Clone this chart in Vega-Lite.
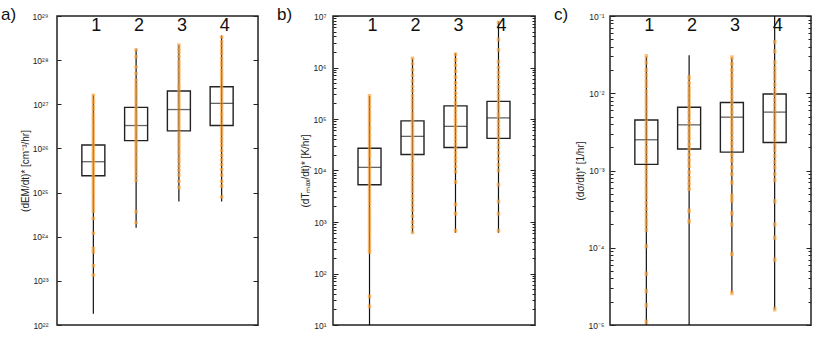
{
  "$schema": "https://vega.github.io/schema/vega-lite/v6.json",
  "padding": {"left": 0, "top": 5, "right": 5, "bottom": 5},
  "background": "white",
  "config": {
    "view": {"stroke": "#222", "strokeWidth": 1.5},
    "axis": {"grid": false, "domain": false, "labelFont": "Liberation Sans", "titleFont": "Liberation Sans", "labelFontSize": 8.5, "titleFontSize": 10, "titleFontWeight": "normal", "labelColor": "#222", "titleColor": "#222", "tickColor": "#222"},
    "title": {"font": "Liberation Sans", "fontWeight": "normal", "fontSize": 17, "color": "#111"}
  },
  "datasets": {
    "box": [
      {"p": "a", "c": 1, "lo": 1.8e22, "q1": 2.4e25, "med": 5e25, "q3": 1.2e26, "hi": 1.6e27},
      {"p": "a", "c": 2, "lo": 1.6e24, "q1": 1.5e26, "med": 3.3e26, "q3": 8.5e26, "hi": 1.8e28},
      {"p": "a", "c": 3, "lo": 6.3e24, "q1": 2.5e26, "med": 7.6e26, "q3": 2e27, "hi": 2.2e28},
      {"p": "a", "c": 4, "lo": 6.3e24, "q1": 3.3e26, "med": 1.05e27, "q3": 2.5e27, "hi": 3.6e28},
      {"p": "b", "c": 1, "lo": 10, "q1": 5.3e3, "med": 1.15e4, "q3": 2.7e4, "hi": 2.8e5},
      {"p": "b", "c": 2, "lo": 620, "q1": 2.05e4, "med": 4.6e4, "q3": 9.2e4, "hi": 1.5e6},
      {"p": "b", "c": 3, "lo": 620, "q1": 2.8e4, "med": 7.2e4, "q3": 1.8e5, "hi": 1.9e6},
      {"p": "b", "c": 4, "lo": 620, "q1": 4.2e4, "med": 1.05e5, "q3": 2.2e5, "hi": 7.8e6},
      {"p": "c", "c": 1, "lo": 1e-5, "q1": 1.2e-3, "med": 2.5e-3, "q3": 4.5e-3, "hi": 3e-2},
      {"p": "c", "c": 2, "lo": 1e-5, "q1": 1.9e-3, "med": 3.9e-3, "q3": 6.6e-3, "hi": 3.1e-2},
      {"p": "c", "c": 3, "lo": 2.6e-5, "q1": 1.73e-3, "med": 4.9e-3, "q3": 7.6e-3, "hi": 2.9e-2},
      {"p": "c", "c": 4, "lo": 1.6e-5, "q1": 2.3e-3, "med": 5.7e-3, "q3": 9.8e-3, "hi": 1e-1}
    ],
    "pts": [
      {"p":"a","c":1,"v":1.6e27},{"p":"a","c":1,"v":1.3e27},{"p":"a","c":1,"v":1.1e27},{"p":"a","c":1,"v":9e26},{"p":"a","c":1,"v":7.5e26},{"p":"a","c":1,"v":6e26},{"p":"a","c":1,"v":5e26},{"p":"a","c":1,"v":4.2e26},{"p":"a","c":1,"v":3.5e26},{"p":"a","c":1,"v":3e26},{"p":"a","c":1,"v":2.5e26},{"p":"a","c":1,"v":2.1e26},{"p":"a","c":1,"v":1.8e26},{"p":"a","c":1,"v":1.5e26},{"p":"a","c":1,"v":1.3e26},{"p":"a","c":1,"v":1.1e26},{"p":"a","c":1,"v":9.5e25},{"p":"a","c":1,"v":8e25},{"p":"a","c":1,"v":7e25},{"p":"a","c":1,"v":6e25},{"p":"a","c":1,"v":5e25},{"p":"a","c":1,"v":4.3e25},{"p":"a","c":1,"v":3.7e25},{"p":"a","c":1,"v":3.2e25},{"p":"a","c":1,"v":2.7e25},{"p":"a","c":1,"v":2.3e25},{"p":"a","c":1,"v":2e25},{"p":"a","c":1,"v":1.7e25},{"p":"a","c":1,"v":1.45e25},{"p":"a","c":1,"v":1.25e25},{"p":"a","c":1,"v":1.05e25},{"p":"a","c":1,"v":9e24},{"p":"a","c":1,"v":7.5e24},{"p":"a","c":1,"v":6.3e24},{"p":"a","c":1,"v":5.3e24},{"p":"a","c":1,"v":4.5e24},{"p":"a","c":1,"v":3.8e24},{"p":"a","c":1,"v":2.6e24},{"p":"a","c":1,"v":1.2e24},{"p":"a","c":1,"v":5.4e23},{"p":"a","c":1,"v":4.5e23},{"p":"a","c":1,"v":2.2e23},{"p":"a","c":1,"v":1.35e23},
      {"p":"a","c":2,"v":1.7e28},{"p":"a","c":2,"v":1.2e28},{"p":"a","c":2,"v":7e27},{"p":"a","c":2,"v":5e27},{"p":"a","c":2,"v":3.5e27},{"p":"a","c":2,"v":2.8e27},{"p":"a","c":2,"v":2.3e27},{"p":"a","c":2,"v":1.9e27},{"p":"a","c":2,"v":1.6e27},{"p":"a","c":2,"v":1.3e27},{"p":"a","c":2,"v":1.1e27},{"p":"a","c":2,"v":9e26},{"p":"a","c":2,"v":7.5e26},{"p":"a","c":2,"v":6.3e26},{"p":"a","c":2,"v":5.3e26},{"p":"a","c":2,"v":4.5e26},{"p":"a","c":2,"v":3.8e26},{"p":"a","c":2,"v":3.2e26},{"p":"a","c":2,"v":2.7e26},{"p":"a","c":2,"v":2.3e26},{"p":"a","c":2,"v":1.9e26},{"p":"a","c":2,"v":1.6e26},{"p":"a","c":2,"v":1.35e26},{"p":"a","c":2,"v":1.15e26},{"p":"a","c":2,"v":9.5e25},{"p":"a","c":2,"v":8e25},{"p":"a","c":2,"v":6.5e25},{"p":"a","c":2,"v":5.5e25},{"p":"a","c":2,"v":4.5e25},{"p":"a","c":2,"v":3.7e25},{"p":"a","c":2,"v":3e25},{"p":"a","c":2,"v":2.4e25},{"p":"a","c":2,"v":1.9e25},{"p":"a","c":2,"v":3.7e24},{"p":"a","c":2,"v":2.1e24},
      {"p":"a","c":3,"v":2.2e28},{"p":"a","c":3,"v":1.8e28},{"p":"a","c":3,"v":1.5e28},{"p":"a","c":3,"v":1.2e28},{"p":"a","c":3,"v":9.5e27},{"p":"a","c":3,"v":8e27},{"p":"a","c":3,"v":6.5e27},{"p":"a","c":3,"v":5.5e27},{"p":"a","c":3,"v":4.5e27},{"p":"a","c":3,"v":3.7e27},{"p":"a","c":3,"v":3e27},{"p":"a","c":3,"v":2.5e27},{"p":"a","c":3,"v":2.1e27},{"p":"a","c":3,"v":1.75e27},{"p":"a","c":3,"v":1.45e27},{"p":"a","c":3,"v":1.2e27},{"p":"a","c":3,"v":1e27},{"p":"a","c":3,"v":8.5e26},{"p":"a","c":3,"v":7e26},{"p":"a","c":3,"v":5.8e26},{"p":"a","c":3,"v":4.8e26},{"p":"a","c":3,"v":4e26},{"p":"a","c":3,"v":3.3e26},{"p":"a","c":3,"v":2.8e26},{"p":"a","c":3,"v":2.3e26},{"p":"a","c":3,"v":1.9e26},{"p":"a","c":3,"v":1.6e26},{"p":"a","c":3,"v":1.3e26},{"p":"a","c":3,"v":1.1e26},{"p":"a","c":3,"v":9e25},{"p":"a","c":3,"v":7.5e25},{"p":"a","c":3,"v":6e25},{"p":"a","c":3,"v":5e25},{"p":"a","c":3,"v":4e25},{"p":"a","c":3,"v":3.2e25},{"p":"a","c":3,"v":2.5e25},{"p":"a","c":3,"v":1.8e25},{"p":"a","c":3,"v":1.3e25},
      {"p":"a","c":4,"v":3.3e28},{"p":"a","c":4,"v":2.6e28},{"p":"a","c":4,"v":2.1e28},{"p":"a","c":4,"v":1.7e28},{"p":"a","c":4,"v":1.4e28},{"p":"a","c":4,"v":1.1e28},{"p":"a","c":4,"v":9e27},{"p":"a","c":4,"v":7.5e27},{"p":"a","c":4,"v":6e27},{"p":"a","c":4,"v":5e27},{"p":"a","c":4,"v":4.2e27},{"p":"a","c":4,"v":3.5e27},{"p":"a","c":4,"v":2.9e27},{"p":"a","c":4,"v":2.4e27},{"p":"a","c":4,"v":2e27},{"p":"a","c":4,"v":1.7e27},{"p":"a","c":4,"v":1.4e27},{"p":"a","c":4,"v":1.15e27},{"p":"a","c":4,"v":9.5e26},{"p":"a","c":4,"v":8e26},{"p":"a","c":4,"v":6.5e26},{"p":"a","c":4,"v":5.5e26},{"p":"a","c":4,"v":4.5e26},{"p":"a","c":4,"v":3.7e26},{"p":"a","c":4,"v":3e26},{"p":"a","c":4,"v":2.5e26},{"p":"a","c":4,"v":2.1e26},{"p":"a","c":4,"v":1.7e26},{"p":"a","c":4,"v":1.4e26},{"p":"a","c":4,"v":1.15e26},{"p":"a","c":4,"v":9e25},{"p":"a","c":4,"v":7e25},{"p":"a","c":4,"v":5.5e25},{"p":"a","c":4,"v":4.3e25},{"p":"a","c":4,"v":3.3e25},{"p":"a","c":4,"v":2.5e25},{"p":"a","c":4,"v":1.8e25},{"p":"a","c":4,"v":1.4e25},{"p":"a","c":4,"v":8e24},
      {"p":"b","c":1,"v":2.8e5},{"p":"b","c":1,"v":2.4e5},{"p":"b","c":1,"v":2e5},{"p":"b","c":1,"v":1.7e5},{"p":"b","c":1,"v":1.4e5},{"p":"b","c":1,"v":1.2e5},{"p":"b","c":1,"v":1e5},{"p":"b","c":1,"v":8.5e4},{"p":"b","c":1,"v":7e4},{"p":"b","c":1,"v":6e4},{"p":"b","c":1,"v":5e4},{"p":"b","c":1,"v":4.2e4},{"p":"b","c":1,"v":3.5e4},{"p":"b","c":1,"v":3e4},{"p":"b","c":1,"v":2.5e4},{"p":"b","c":1,"v":2.1e4},{"p":"b","c":1,"v":1.8e4},{"p":"b","c":1,"v":1.5e4},{"p":"b","c":1,"v":1.25e4},{"p":"b","c":1,"v":1.05e4},{"p":"b","c":1,"v":9e3},{"p":"b","c":1,"v":7.5e3},{"p":"b","c":1,"v":6.3e3},{"p":"b","c":1,"v":5.3e3},{"p":"b","c":1,"v":4.4e3},{"p":"b","c":1,"v":3.7e3},{"p":"b","c":1,"v":3.1e3},{"p":"b","c":1,"v":2.6e3},{"p":"b","c":1,"v":2.2e3},{"p":"b","c":1,"v":1.8e3},{"p":"b","c":1,"v":1.5e3},{"p":"b","c":1,"v":1.25e3},{"p":"b","c":1,"v":1.05e3},{"p":"b","c":1,"v":880},{"p":"b","c":1,"v":740},{"p":"b","c":1,"v":620},{"p":"b","c":1,"v":520},{"p":"b","c":1,"v":430},{"p":"b","c":1,"v":360},{"p":"b","c":1,"v":300},{"p":"b","c":1,"v":260},{"p":"b","c":1,"v":36},{"p":"b","c":1,"v":23},
      {"p":"b","c":2,"v":1.5e6},{"p":"b","c":2,"v":1.2e6},{"p":"b","c":2,"v":9e5},{"p":"b","c":2,"v":7e5},{"p":"b","c":2,"v":5.5e5},{"p":"b","c":2,"v":4.3e5},{"p":"b","c":2,"v":3.5e5},{"p":"b","c":2,"v":2.8e5},{"p":"b","c":2,"v":2.3e5},{"p":"b","c":2,"v":1.9e5},{"p":"b","c":2,"v":1.6e5},{"p":"b","c":2,"v":1.3e5},{"p":"b","c":2,"v":1.1e5},{"p":"b","c":2,"v":9.2e4},{"p":"b","c":2,"v":7.8e4},{"p":"b","c":2,"v":6.5e4},{"p":"b","c":2,"v":5.5e4},{"p":"b","c":2,"v":4.6e4},{"p":"b","c":2,"v":3.9e4},{"p":"b","c":2,"v":3.3e4},{"p":"b","c":2,"v":2.8e4},{"p":"b","c":2,"v":2.4e4},{"p":"b","c":2,"v":2e4},{"p":"b","c":2,"v":1.7e4},{"p":"b","c":2,"v":1.4e4},{"p":"b","c":2,"v":1.2e4},{"p":"b","c":2,"v":1e4},{"p":"b","c":2,"v":8.5e3},{"p":"b","c":2,"v":7e3},{"p":"b","c":2,"v":5.8e3},{"p":"b","c":2,"v":4.8e3},{"p":"b","c":2,"v":4e3},{"p":"b","c":2,"v":3.2e3},{"p":"b","c":2,"v":2.6e3},{"p":"b","c":2,"v":2.1e3},{"p":"b","c":2,"v":1.7e3},{"p":"b","c":2,"v":1.3e3},{"p":"b","c":2,"v":1e3},{"p":"b","c":2,"v":800},{"p":"b","c":2,"v":630},
      {"p":"b","c":3,"v":1.8e6},{"p":"b","c":3,"v":1.4e6},{"p":"b","c":3,"v":1.1e6},{"p":"b","c":3,"v":8.5e5},{"p":"b","c":3,"v":6.5e5},{"p":"b","c":3,"v":5e5},{"p":"b","c":3,"v":4e5},{"p":"b","c":3,"v":3.2e5},{"p":"b","c":3,"v":2.6e5},{"p":"b","c":3,"v":2.1e5},{"p":"b","c":3,"v":1.75e5},{"p":"b","c":3,"v":1.45e5},{"p":"b","c":3,"v":1.2e5},{"p":"b","c":3,"v":1e5},{"p":"b","c":3,"v":8.5e4},{"p":"b","c":3,"v":7e4},{"p":"b","c":3,"v":5.8e4},{"p":"b","c":3,"v":4.8e4},{"p":"b","c":3,"v":4e4},{"p":"b","c":3,"v":3.3e4},{"p":"b","c":3,"v":2.7e4},{"p":"b","c":3,"v":2.2e4},{"p":"b","c":3,"v":1.8e4},{"p":"b","c":3,"v":1.5e4},{"p":"b","c":3,"v":1.2e4},{"p":"b","c":3,"v":9.5e3},{"p":"b","c":3,"v":6e3},{"p":"b","c":3,"v":2.2e3},{"p":"b","c":3,"v":1.45e3},{"p":"b","c":3,"v":680},
      {"p":"b","c":4,"v":7.5e6},{"p":"b","c":4,"v":3.5e6},{"p":"b","c":4,"v":2.2e6},{"p":"b","c":4,"v":1.3e6},{"p":"b","c":4,"v":1e6},{"p":"b","c":4,"v":8e5},{"p":"b","c":4,"v":6.5e5},{"p":"b","c":4,"v":5.2e5},{"p":"b","c":4,"v":4.2e5},{"p":"b","c":4,"v":3.4e5},{"p":"b","c":4,"v":2.8e5},{"p":"b","c":4,"v":2.3e5},{"p":"b","c":4,"v":1.9e5},{"p":"b","c":4,"v":1.6e5},{"p":"b","c":4,"v":1.3e5},{"p":"b","c":4,"v":1.1e5},{"p":"b","c":4,"v":9e4},{"p":"b","c":4,"v":7.5e4},{"p":"b","c":4,"v":6.2e4},{"p":"b","c":4,"v":5.2e4},{"p":"b","c":4,"v":4.3e4},{"p":"b","c":4,"v":3.5e4},{"p":"b","c":4,"v":2.8e4},{"p":"b","c":4,"v":2.2e4},{"p":"b","c":4,"v":1.7e4},{"p":"b","c":4,"v":1.3e4},{"p":"b","c":4,"v":1e4},{"p":"b","c":4,"v":5.3e3},{"p":"b","c":4,"v":2.5e3},{"p":"b","c":4,"v":1.45e3},{"p":"b","c":4,"v":680},
      {"p":"c","c":1,"v":3e-2},{"p":"c","c":1,"v":2.5e-2},{"p":"c","c":1,"v":2e-2},{"p":"c","c":1,"v":1.7e-2},{"p":"c","c":1,"v":1.45e-2},{"p":"c","c":1,"v":1.25e-2},{"p":"c","c":1,"v":1.05e-2},{"p":"c","c":1,"v":9e-3},{"p":"c","c":1,"v":7.8e-3},{"p":"c","c":1,"v":6.7e-3},{"p":"c","c":1,"v":5.8e-3},{"p":"c","c":1,"v":5e-3},{"p":"c","c":1,"v":4.3e-3},{"p":"c","c":1,"v":3.7e-3},{"p":"c","c":1,"v":3.2e-3},{"p":"c","c":1,"v":2.75e-3},{"p":"c","c":1,"v":2.35e-3},{"p":"c","c":1,"v":2e-3},{"p":"c","c":1,"v":1.75e-3},{"p":"c","c":1,"v":1.5e-3},{"p":"c","c":1,"v":1.3e-3},{"p":"c","c":1,"v":1.1e-3},{"p":"c","c":1,"v":9.5e-4},{"p":"c","c":1,"v":8.2e-4},{"p":"c","c":1,"v":7e-4},{"p":"c","c":1,"v":6e-4},{"p":"c","c":1,"v":5.2e-4},{"p":"c","c":1,"v":4.5e-4},{"p":"c","c":1,"v":3.8e-4},{"p":"c","c":1,"v":3.2e-4},{"p":"c","c":1,"v":2.7e-4},{"p":"c","c":1,"v":2.3e-4},{"p":"c","c":1,"v":2e-4},{"p":"c","c":1,"v":1.7e-4},{"p":"c","c":1,"v":1.05e-4},{"p":"c","c":1,"v":4.6e-5},{"p":"c","c":1,"v":2.75e-5},{"p":"c","c":1,"v":1.8e-5},{"p":"c","c":1,"v":1.1e-5},
      {"p":"c","c":2,"v":1.6e-2},{"p":"c","c":2,"v":1.35e-2},{"p":"c","c":2,"v":1.15e-2},{"p":"c","c":2,"v":1e-2},{"p":"c","c":2,"v":8.7e-3},{"p":"c","c":2,"v":7.5e-3},{"p":"c","c":2,"v":6.5e-3},{"p":"c","c":2,"v":5.6e-3},{"p":"c","c":2,"v":4.8e-3},{"p":"c","c":2,"v":4.1e-3},{"p":"c","c":2,"v":3.5e-3},{"p":"c","c":2,"v":3e-3},{"p":"c","c":2,"v":2.6e-3},{"p":"c","c":2,"v":2.2e-3},{"p":"c","c":2,"v":1.9e-3},{"p":"c","c":2,"v":1.6e-3},{"p":"c","c":2,"v":1.35e-3},{"p":"c","c":2,"v":1.15e-3},{"p":"c","c":2,"v":9.5e-4},{"p":"c","c":2,"v":8e-4},{"p":"c","c":2,"v":6.8e-4},{"p":"c","c":2,"v":5.8e-4},{"p":"c","c":2,"v":3e-4},{"p":"c","c":2,"v":2.2e-4},
      {"p":"c","c":3,"v":2.9e-2},{"p":"c","c":3,"v":2.4e-2},{"p":"c","c":3,"v":2e-2},{"p":"c","c":3,"v":1.7e-2},{"p":"c","c":3,"v":1.45e-2},{"p":"c","c":3,"v":1.25e-2},{"p":"c","c":3,"v":1.05e-2},{"p":"c","c":3,"v":9e-3},{"p":"c","c":3,"v":7.7e-3},{"p":"c","c":3,"v":6.6e-3},{"p":"c","c":3,"v":5.7e-3},{"p":"c","c":3,"v":4.9e-3},{"p":"c","c":3,"v":4.2e-3},{"p":"c","c":3,"v":3.6e-3},{"p":"c","c":3,"v":3.1e-3},{"p":"c","c":3,"v":2.65e-3},{"p":"c","c":3,"v":2.25e-3},{"p":"c","c":3,"v":1.9e-3},{"p":"c","c":3,"v":1.6e-3},{"p":"c","c":3,"v":1.35e-3},{"p":"c","c":3,"v":1.1e-3},{"p":"c","c":3,"v":9e-4},{"p":"c","c":3,"v":7e-4},{"p":"c","c":3,"v":4.7e-4},{"p":"c","c":3,"v":4.1e-4},{"p":"c","c":3,"v":2.8e-4},{"p":"c","c":3,"v":2e-4},{"p":"c","c":3,"v":8.3e-5},{"p":"c","c":3,"v":2.6e-5},
      {"p":"c","c":4,"v":4.6e-2},{"p":"c","c":4,"v":3.5e-2},{"p":"c","c":4,"v":2.5e-2},{"p":"c","c":4,"v":2.1e-2},{"p":"c","c":4,"v":1.8e-2},{"p":"c","c":4,"v":1.55e-2},{"p":"c","c":4,"v":1.3e-2},{"p":"c","c":4,"v":1.1e-2},{"p":"c","c":4,"v":9.5e-3},{"p":"c","c":4,"v":8.2e-3},{"p":"c","c":4,"v":7e-3},{"p":"c","c":4,"v":6e-3},{"p":"c","c":4,"v":5.2e-3},{"p":"c","c":4,"v":4.5e-3},{"p":"c","c":4,"v":3.9e-3},{"p":"c","c":4,"v":3.4e-3},{"p":"c","c":4,"v":2.9e-3},{"p":"c","c":4,"v":2.5e-3},{"p":"c","c":4,"v":2.15e-3},{"p":"c","c":4,"v":1.85e-3},{"p":"c","c":4,"v":1.55e-3},{"p":"c","c":4,"v":1.3e-3},{"p":"c","c":4,"v":1.1e-3},{"p":"c","c":4,"v":9e-4},{"p":"c","c":4,"v":7.5e-4},{"p":"c","c":4,"v":4e-4},{"p":"c","c":4,"v":2e-4},{"p":"c","c":4,"v":1.35e-4},{"p":"c","c":4,"v":7e-5},{"p":"c","c":4,"v":1.6e-5}
    ]
  },
  "spacing": 75,
  "bounds": "flush",
  "hconcat": [
    {
      "width": 201, "height": 309,
      "title": {"text": "a)", "anchor": "start", "frame": "group", "dx": -56, "offset": -12},
      "resolve": {"axis": {"y": "independent"}},
      "layer": [
        {
          "data": {"name": "box"}, "transform": [{"filter": "datum.p === 'a'"}],
          "mark": {"type": "rule", "color": "#111", "strokeWidth": 1.2},
          "encoding": {
            "x": {"field": "c", "type": "quantitative", "scale": {"domain": [0.267, 4.733], "nice": false, "zero": false}, "axis": {"orient": "bottom", "values": [1.22, 2.22, 3.22, 4.22], "labels": false, "tickSize": 3, "title": null}},
            "y": {"field": "lo", "type": "quantitative", "scale": {"type": "log", "domain": [1e22, 1e29], "nice": false}, "axis": {"orient": "left", "values": [1e22, 1e23, 1e24, 1e25, 1e26, 1e27, 1e28, 1e29], "tickSize": -4, "labelPadding": 13, "title": "(dEM/dt)* [cm⁻³/hr]", "titlePadding": 2, "labelExpr": "'10' + (datum.value < 1 ? '⁻' : '') + (abs(round(log(datum.value)/LN10)) >= 10 ? substring('⁰¹²³⁴⁵⁶⁷⁸⁹', floor(abs(round(log(datum.value)/LN10))/10), floor(abs(round(log(datum.value)/LN10))/10)+1) : '') + substring('⁰¹²³⁴⁵⁶⁷⁸⁹', abs(round(log(datum.value)/LN10))%10, abs(round(log(datum.value)/LN10))%10+1)"}},
            "y2": {"field": "hi"}
          }
        },
        {
          "data": {"name": "box"}, "transform": [{"filter": "datum.p === 'a'"}],
          "mark": {"type": "bar", "filled": false, "color": "#222", "strokeWidth": 1.4, "size": 23},
          "encoding": {
            "x": {"field": "c", "type": "quantitative", "scale": {"domain": [0.267, 4.733], "nice": false, "zero": false}, "axis": null},
            "y": {"field": "q1", "type": "quantitative", "scale": {"type": "log", "domain": [1e22, 1e29], "nice": false}, "axis": {"orient": "right", "values": [1e22, 1e23, 1e24, 1e25, 1e26, 1e27, 1e28, 1e29], "tickSize": -5, "labels": false, "title": null}},
            "y2": {"field": "q3"}
          }
        },
        {
          "data": {"name": "box"}, "transform": [{"filter": "datum.p === 'a'"}],
          "mark": {"type": "tick", "orient": "horizontal", "color": "#222", "size": 23, "thickness": 1.3},
          "encoding": {
            "x": {"field": "c", "type": "quantitative", "scale": {"domain": [0.267, 4.733], "nice": false, "zero": false}, "axis": null},
            "y": {"field": "med", "type": "quantitative", "scale": {"type": "log", "domain": [1e22, 1e29], "nice": false}, "axis": null}
          }
        },
        {
          "data": {"name": "pts"}, "transform": [{"filter": "datum.p === 'a'"}],
          "mark": {"type": "tick", "orient": "horizontal", "color": "#fba33a", "size": 3.5, "thickness": 3.4},
          "encoding": {
            "x": {"field": "c", "type": "quantitative", "scale": {"domain": [0.267, 4.733], "nice": false, "zero": false}, "axis": null},
            "y": {"field": "v", "type": "quantitative", "scale": {"type": "log", "domain": [1e22, 1e29], "nice": false}, "axis": null}
          }
        },
        {
          "data": {"name": "box"}, "transform": [{"filter": "datum.p === 'a'"}],
          "mark": {"type": "text", "fontSize": 18, "font": "Liberation Sans", "color": "#111", "baseline": "middle", "dx": 3},
          "encoding": {
            "x": {"field": "c", "type": "quantitative", "scale": {"domain": [0.267, 4.733], "nice": false, "zero": false}, "axis": null},
            "y": {"datum": 5.9e28, "type": "quantitative", "scale": {"type": "log", "domain": [1e22, 1e29], "nice": false}, "axis": null},
            "text": {"field": "c"}
          }
        }
      ]
    },
    {
      "width": 202, "height": 309,
      "title": {"text": "b)", "anchor": "start", "frame": "group", "dx": -56, "offset": -12},
      "resolve": {"axis": {"y": "independent"}},
      "layer": [
        {
          "data": {"name": "box"}, "transform": [{"filter": "datum.p === 'b'"}],
          "mark": {"type": "rule", "color": "#111", "strokeWidth": 1.2},
          "encoding": {
            "x": {"field": "c", "type": "quantitative", "scale": {"domain": [0.267, 4.733], "nice": false, "zero": false}, "axis": {"orient": "bottom", "values": [1.22, 2.22, 3.22, 4.22], "labels": false, "tickSize": 3, "title": null}},
            "y": {"field": "lo", "type": "quantitative", "scale": {"type": "log", "domain": [10, 1e7], "nice": false}, "axis": {"orient": "left", "values": [10, 100, 1000, 10000, 100000, 1000000, 10000000], "tickSize": -5, "labelPadding": 12, "title": "(dTₘₐₓ/dt)* [K/hr]", "titlePadding": 2, "labelExpr": "'10' + (datum.value < 1 ? '⁻' : '') + (abs(round(log(datum.value)/LN10)) >= 10 ? substring('⁰¹²³⁴⁵⁶⁷⁸⁹', floor(abs(round(log(datum.value)/LN10))/10), floor(abs(round(log(datum.value)/LN10))/10)+1) : '') + substring('⁰¹²³⁴⁵⁶⁷⁸⁹', abs(round(log(datum.value)/LN10))%10, abs(round(log(datum.value)/LN10))%10+1)"}},
            "y2": {"field": "hi"}
          }
        },
        {
          "data": {"name": "box"}, "transform": [{"filter": "datum.p === 'b'"}],
          "mark": {"type": "bar", "filled": false, "color": "#222", "strokeWidth": 1.4, "size": 23},
          "encoding": {
            "x": {"field": "c", "type": "quantitative", "scale": {"domain": [0.267, 4.733], "nice": false, "zero": false}, "axis": null},
            "y": {"field": "q1", "type": "quantitative", "scale": {"type": "log", "domain": [10, 1e7], "nice": false}, "axis": {"orient": "right", "values": [10, 100, 1000, 10000, 100000, 1000000, 10000000], "tickSize": -5, "labels": false, "title": null}},
            "y2": {"field": "q3"}
          }
        },
        {
          "data": {"name": "box"}, "transform": [{"filter": "datum.p === 'b'"}],
          "mark": {"type": "tick", "orient": "horizontal", "color": "#222", "size": 23, "thickness": 1.3},
          "encoding": {
            "x": {"field": "c", "type": "quantitative", "scale": {"domain": [0.267, 4.733], "nice": false, "zero": false}, "axis": null},
            "y": {"field": "med", "type": "quantitative", "scale": {"type": "log", "domain": [10, 1e7], "nice": false}, "axis": {"orient": "left", "values": [20,30,40,50,60,70,80,90,200,300,400,500,600,700,800,900,2000,3000,4000,5000,6000,7000,8000,9000,20000,30000,40000,50000,60000,70000,80000,90000,200000,300000,400000,500000,600000,700000,800000,900000,2000000,3000000,4000000,5000000,6000000,7000000,8000000,9000000], "tickSize": -3, "labels": false, "title": null}}
          }
        },
        {
          "data": {"name": "pts"}, "transform": [{"filter": "datum.p === 'b'"}],
          "mark": {"type": "tick", "orient": "horizontal", "color": "#fba33a", "size": 3.5, "thickness": 3.8},
          "encoding": {
            "x": {"field": "c", "type": "quantitative", "scale": {"domain": [0.267, 4.733], "nice": false, "zero": false}, "axis": null},
            "y": {"field": "v", "type": "quantitative", "scale": {"type": "log", "domain": [10, 1e7], "nice": false}, "axis": {"orient": "right", "values": [20,30,40,50,60,70,80,90,200,300,400,500,600,700,800,900,2000,3000,4000,5000,6000,7000,8000,9000,20000,30000,40000,50000,60000,70000,80000,90000,200000,300000,400000,500000,600000,700000,800000,900000,2000000,3000000,4000000,5000000,6000000,7000000,8000000,9000000], "tickSize": -3, "labels": false, "title": null}}
          }
        },
        {
          "data": {"name": "box"}, "transform": [{"filter": "datum.p === 'b'"}],
          "mark": {"type": "text", "fontSize": 18, "font": "Liberation Sans", "color": "#111", "baseline": "middle", "dx": 3},
          "encoding": {
            "x": {"field": "c", "type": "quantitative", "scale": {"domain": [0.267, 4.733], "nice": false, "zero": false}, "axis": null},
            "y": {"datum": 6.4e6, "type": "quantitative", "scale": {"type": "log", "domain": [10, 1e7], "nice": false}, "axis": null},
            "text": {"field": "c"}
          }
        }
      ]
    },
    {
      "width": 201, "height": 309,
      "title": {"text": "c)", "anchor": "start", "frame": "group", "dx": -56, "offset": -12},
      "resolve": {"axis": {"y": "independent"}},
      "layer": [
        {
          "data": {"name": "box"}, "transform": [{"filter": "datum.p === 'c'"}],
          "mark": {"type": "rule", "color": "#111", "strokeWidth": 1.2},
          "encoding": {
            "x": {"field": "c", "type": "quantitative", "scale": {"domain": [0.267, 4.733], "nice": false, "zero": false}, "axis": {"orient": "bottom", "values": [1.22, 2.22, 3.22, 4.22], "labels": false, "tickSize": 3, "title": null}},
            "y": {"field": "lo", "type": "quantitative", "scale": {"type": "log", "domain": [1e-5, 1e-1], "nice": false}, "axis": {"orient": "left", "values": [1e-5, 1e-4, 1e-3, 1e-2, 1e-1], "tickSize": -5, "labelPadding": 11, "title": "(dσ/dt)* [1/hr]", "titlePadding": 2, "labelExpr": "'10' + (datum.value < 1 ? '⁻' : '') + (abs(round(log(datum.value)/LN10)) >= 10 ? substring('⁰¹²³⁴⁵⁶⁷⁸⁹', floor(abs(round(log(datum.value)/LN10))/10), floor(abs(round(log(datum.value)/LN10))/10)+1) : '') + substring('⁰¹²³⁴⁵⁶⁷⁸⁹', abs(round(log(datum.value)/LN10))%10, abs(round(log(datum.value)/LN10))%10+1)"}},
            "y2": {"field": "hi"}
          }
        },
        {
          "data": {"name": "box"}, "transform": [{"filter": "datum.p === 'c'"}],
          "mark": {"type": "bar", "filled": false, "color": "#222", "strokeWidth": 1.4, "size": 23},
          "encoding": {
            "x": {"field": "c", "type": "quantitative", "scale": {"domain": [0.267, 4.733], "nice": false, "zero": false}, "axis": null},
            "y": {"field": "q1", "type": "quantitative", "scale": {"type": "log", "domain": [1e-5, 1e-1], "nice": false}, "axis": {"orient": "right", "values": [1e-5, 1e-4, 1e-3, 1e-2, 1e-1], "tickSize": -5, "labels": false, "title": null}},
            "y2": {"field": "q3"}
          }
        },
        {
          "data": {"name": "box"}, "transform": [{"filter": "datum.p === 'c'"}],
          "mark": {"type": "tick", "orient": "horizontal", "color": "#222", "size": 23, "thickness": 1.3},
          "encoding": {
            "x": {"field": "c", "type": "quantitative", "scale": {"domain": [0.267, 4.733], "nice": false, "zero": false}, "axis": null},
            "y": {"field": "med", "type": "quantitative", "scale": {"type": "log", "domain": [1e-5, 1e-1], "nice": false}, "axis": {"orient": "left", "values": [2e-5,3e-5,4e-5,5e-5,6e-5,7e-5,8e-5,9e-5,2e-4,3e-4,4e-4,5e-4,6e-4,7e-4,8e-4,9e-4,2e-3,3e-3,4e-3,5e-3,6e-3,7e-3,8e-3,9e-3,2e-2,3e-2,4e-2,5e-2,6e-2,7e-2,8e-2,9e-2], "tickSize": -3, "labels": false, "title": null}}
          }
        },
        {
          "data": {"name": "pts"}, "transform": [{"filter": "datum.p === 'c'"}],
          "mark": {"type": "tick", "orient": "horizontal", "color": "#fba33a", "size": 3.5, "thickness": 4.5},
          "encoding": {
            "x": {"field": "c", "type": "quantitative", "scale": {"domain": [0.267, 4.733], "nice": false, "zero": false}, "axis": null},
            "y": {"field": "v", "type": "quantitative", "scale": {"type": "log", "domain": [1e-5, 1e-1], "nice": false}, "axis": {"orient": "right", "values": [2e-5,3e-5,4e-5,5e-5,6e-5,7e-5,8e-5,9e-5,2e-4,3e-4,4e-4,5e-4,6e-4,7e-4,8e-4,9e-4,2e-3,3e-3,4e-3,5e-3,6e-3,7e-3,8e-3,9e-3,2e-2,3e-2,4e-2,5e-2,6e-2,7e-2,8e-2,9e-2], "tickSize": -3, "labels": false, "title": null}}
          }
        },
        {
          "data": {"name": "box"}, "transform": [{"filter": "datum.p === 'c'"}],
          "mark": {"type": "text", "fontSize": 18, "font": "Liberation Sans", "color": "#111", "baseline": "middle", "dx": 3},
          "encoding": {
            "x": {"field": "c", "type": "quantitative", "scale": {"domain": [0.267, 4.733], "nice": false, "zero": false}, "axis": null},
            "y": {"datum": 7.4e-2, "type": "quantitative", "scale": {"type": "log", "domain": [1e-5, 1e-1], "nice": false}, "axis": null},
            "text": {"field": "c"}
          }
        }
      ]
    }
  ]
}
